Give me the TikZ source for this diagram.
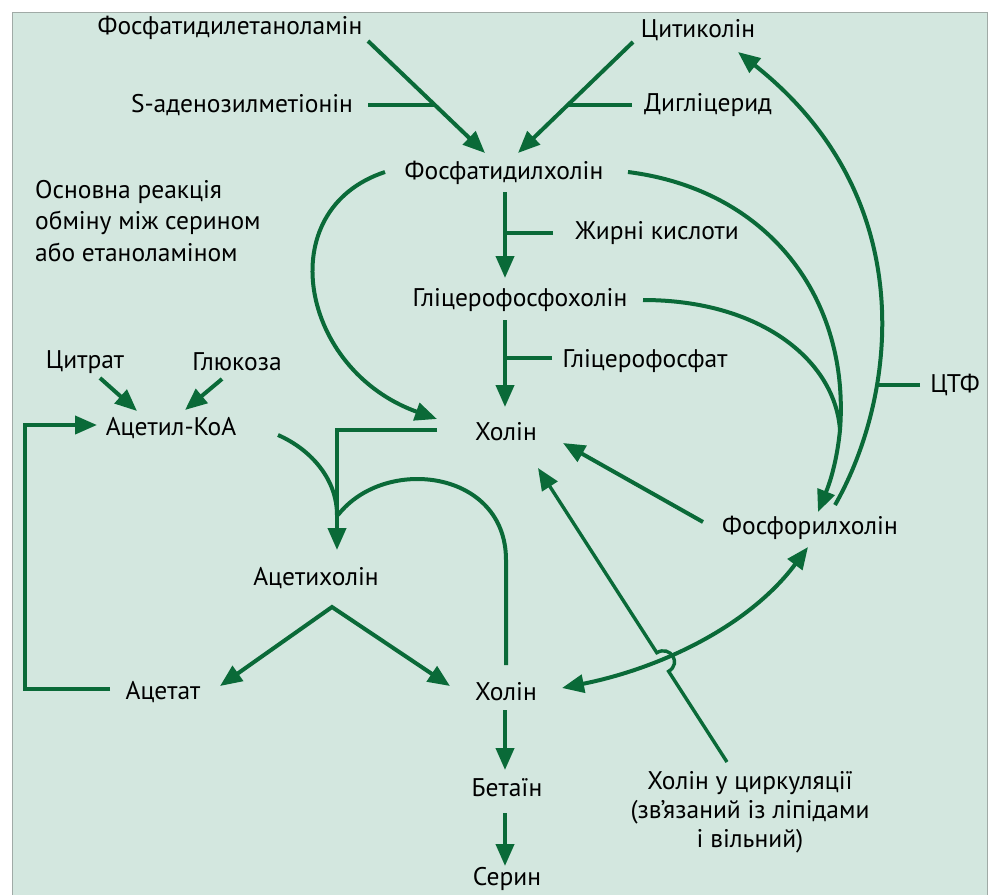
\documentclass[tikz,border=0pt]{standalone}
\usepackage{fontspec}
\setmainfont{PT Sans}
\usetikzlibrary{arrows.meta}
\definecolor{bgc}{RGB}{211,231,223}
\definecolor{lgreen}{RGB}{10,106,56}
\definecolor{frm}{RGB}{160,170,166}
\tikzset{
  ln/.style={draw=lgreen, line width=4pt},
  arr/.style={ln, -{Triangle[length=22pt,width=18pt]}},
  darr/.style={ln, {Triangle[length=22pt,width=18pt]}-{Triangle[length=22pt,width=18pt]}},
  lbl/.style={text=black, inner sep=0pt, font=\fontsize{25.5}{30}\selectfont}
}
\begin{document}
\begin{tikzpicture}[x=1pt,y=-1pt]
\useasboundingbox (0,0) rectangle (992,894);
\fill[white] (0,0) rectangle (992,894);
\draw[draw=frm, fill=bgc, line width=1pt] (12,12) rectangle (987,910);

% labels
\node[lbl] (pe) at (230,28) {Фосфатидилетаноламін};
\node[lbl] (cit) at (698,30) {Цитиколін};
\node[lbl] (sam) at (242,105) {S-аденозилметіонін};
\node[lbl] (dig) at (708,105) {Дигліцерид};
\node[lbl] (fc) at (504,173) {Фосфатидилхолін};
\node[lbl, align=left, anchor=west, font=\fontsize{25.5}{31.5}\selectfont] (note) at (35,221) {Основна реакція\\обміну між серином\\або етаноламіном};
\node[lbl] (fa) at (657,233) {Жирні кислоти};
\node[lbl] (gpc) at (520,300) {Гліцерофосфохолін};
\node[lbl] (gp) at (645,361) {Гліцерофосфат};
\node[lbl] (citr) at (85,362) {Цитрат};
\node[lbl] (glu) at (237,362) {Глюкоза};
\node[lbl] (acoa) at (171,428) {Ацетил-КоА};
\node[lbl] (ch1) at (506,432) {Холін};
\node[lbl] (ctp) at (955,385) {ЦТФ};
\node[lbl] (phc) at (810,528) {Фосфорилхолін};
\node[lbl] (ach) at (316,578) {Ацетихолін};
\node[lbl] (act) at (163,692) {Ацетат};
\node[lbl] (ch2) at (506,692) {Холін};
\node[lbl] (bet) at (507,788) {Бетаїн};
\node[lbl] (ser) at (507,879) {Серин};
\node[lbl, align=center, font=\fontsize{25.5}{29}\selectfont] (circ) at (750,812) {Холін у циркуляції\\(зв’язаний із ліпідами\\і вільний)};

% coordinates for free ends
\coordinate (peS) at (368,41);
\coordinate (fcT1) at (485,153);
\coordinate (samE) at (368,105);
\coordinate (j1) at (434,105);
\coordinate (citS) at (633,42);
\coordinate (fcT2) at (518,153);
\coordinate (digE) at (632,105);
\coordinate (j2) at (568,105);

% top inputs
\draw[arr] (peS) -- (fcT1);
\draw[ln] (samE) -- (j1);
\draw[arr] (citS) -- (fcT2);
\draw[ln] (digE) -- (j2);

% central column
\draw[arr] (505,192) -- (505,278);
\draw[ln] (553,233) -- (505,233);
\draw[arr] (505,320) -- (505,407);
\draw[ln] (552,358) -- (505,358);
\draw[arr] (505,710) -- (505,770);
\draw[arr] (505,813) -- (505,866);

% phosphatidylcholine -> choline (left curve)
\draw[arr] (385,172) .. controls (270,210) and (300,370) .. (437,419);

% choline -> acetylcholine
\draw[arr] (437,430) -- (337,430) -- (337,550);
\draw[ln] (278,435) .. controls (312,450) and (337,480) .. (337,515);
\draw[ln] (506,665) -- (506,560) .. controls (506,470) and (385,455) .. (338,515);

% acetylcholine split
\draw[darr] (220,686) -- (332,607) -- (450,686);

% acetate loop
\draw[arr] (110,689) -- (25,689) -- (25,425) -- (97,425);
\draw[arr] (100,378) -- (137,411);
\draw[arr] (222,379) -- (185,410);

% phosphorylcholine -> choline
\draw[arr] (703,522) -- (563,443);

% circulating choline with hop
\draw[ln, line width=3.4pt, -{Triangle[length=22pt,width=18pt]}] (727,762) -- (668.6,671.3) .. controls (682,663.4) and (670.2,644.8) .. (656.8,652.7) -- (538,468);

% phosphorylcholine <-> choline (bottom)
\draw[darr] (808,547) .. controls (750,625) and (662,668) .. (562,688);

% right curves
\draw[arr] (628,172) .. controls (770,190) and (850,300) .. (840,430) .. controls (836,470) and (826,492) .. (818,512);
\draw[ln] (643,300) .. controls (760,300) and (835,360) .. (840,430);
\draw[arr] (835,505) .. controls (895,400) and (925,200) .. (738,52);
\draw[ln] (920,385) -- (878,385);
\end{tikzpicture}
\end{document}
